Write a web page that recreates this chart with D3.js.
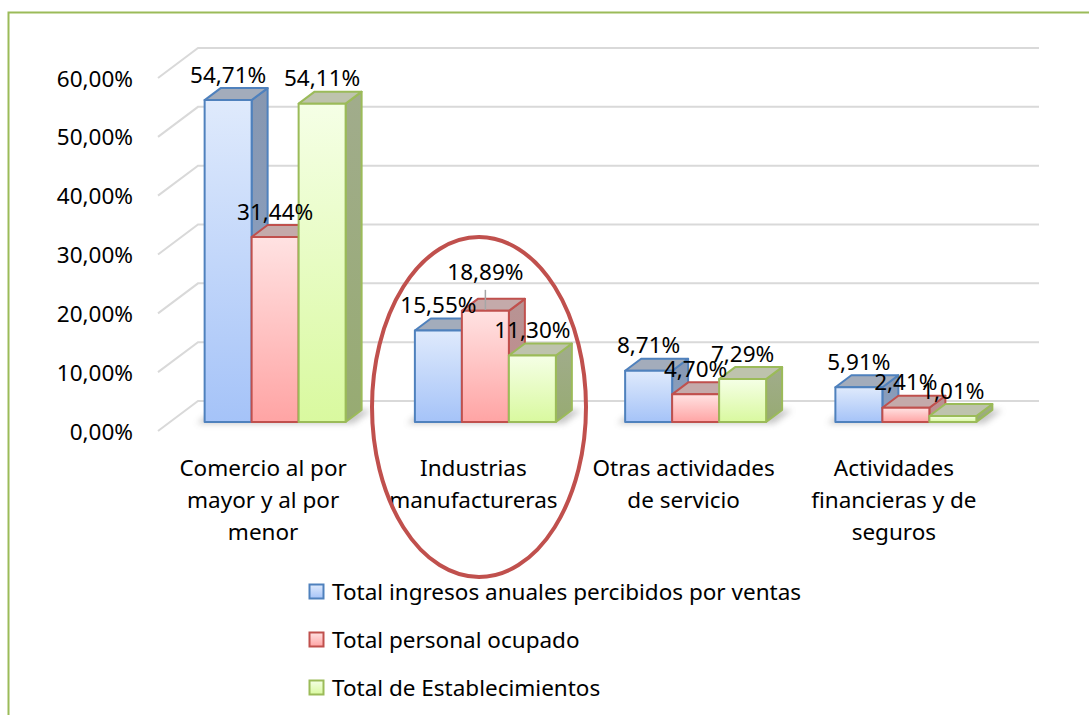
<!DOCTYPE html>
<html>
<head>
<meta charset="utf-8">
<script src="https://cdn.jsdelivr.net/npm/d3@7"></script>
<style>
  body { margin: 0; background: #fff; }
  svg { display: block; font-family: "Noto Sans", "Open Sans", sans-serif; }
</style>
</head>
<body>
<div id="container"></div>
<script>
/** DATA */
const categories = ["Comercio al por mayor y al por menor", "Industrias manufactureras", "Otras actividades de servicio", "Actividades financieras y de seguros"];
const categoryLines = [
  ["Comercio al por", "mayor y al por", "menor"],
  ["Industrias", "manufactureras"],
  ["Otras actividades", "de servicio"],
  ["Actividades", "financieras y de", "seguros"]
];
const seriesNames = ["Total ingresos anuales percibidos por ventas", "Total personal ocupado", "Total de Establecimientos"];
const ventas = [54.71, 15.55, 8.71, 5.91];
const personal = [31.44, 18.89, 4.70, 2.41];
const establecimientos = [54.11, 11.30, 7.29, 1.01];
const yTicks = [0, 10, 20, 30, 40, 50, 60];

/** CONSTANTS */
const width = 1089, height = 715;
const DX = 40, DY = 30;          // floor depth offset (front -> back wall)
const T0 = 0.3, T1 = 0.7;        // bar depth slab
const FS = 22.5;                 // font size

const palette = [
  { stroke: "#4f81bd", top: "#dfeafc", bottom: "#a5c3f8", side: "#8797b0", sideB: "#8ba3c8", lid: "#a3acbb" },
  { stroke: "#c0504d", top: "#ffe2e2", bottom: "#ffa4a4", side: "#b79494", sideB: "#c48a8a", lid: "#c4aaaa" },
  { stroke: "#9bbb59", top: "#f5ffe6", bottom: "#d9f99f", side: "#a1ac8c", sideB: "#97ab72", lid: "#bec3ad" }
];

const values = [ventas, personal, establecimientos];

const locale = d3.formatLocale({ decimal: ",", thousands: ".", grouping: [3], currency: ["", ""] });
const fmtPct = d => locale.format(".2f")(d) + "%";

const svg = d3.select("#container").append("svg")
  .attr("width", width)
  .attr("height", height);

const defs = svg.append("defs");
palette.forEach((p, i) => {
  const g = defs.append("linearGradient").attr("id", "front" + i)
    .attr("x1", 0).attr("y1", 0).attr("x2", 0).attr("y2", 1);
  g.append("stop").attr("offset", 0).attr("stop-color", p.top);
  g.append("stop").attr("offset", 1).attr("stop-color", p.bottom);
  const s = defs.append("linearGradient").attr("id", "side" + i)
    .attr("x1", 0).attr("y1", 0).attr("x2", 0).attr("y2", 1);
  s.append("stop").attr("offset", 0).attr("stop-color", p.side);
  s.append("stop").attr("offset", 1).attr("stop-color", p.sideB);
});
defs.append("filter").attr("id", "blur")
  .attr("x", "-20%").attr("y", "-50%").attr("width", "140%").attr("height", "200%")
  .append("feGaussianBlur").attr("stdDeviation", 3);

// outer border (green, runs off the right/bottom edges)
svg.append("rect")
  .attr("x", 8.5).attr("y", 12.5)
  .attr("width", 1200).attr("height", 800)
  .attr("fill", "none")
  .attr("stroke", "#9bbb59")
  .attr("stroke-width", 2);

/** SCALES */
const y = d3.scaleLinear().domain([0, 60]).range([431, 78]);
const x0 = d3.scaleBand().domain(categories).range([158, 999]).paddingInner(0).paddingOuter(0);
const x1 = d3.scaleBand().domain(seriesNames).range([0, x0.bandwidth()]).paddingInner(0).paddingOuter(0.737);

const proj = (xf, v, t) => [xf + DX * t, y(v) - DY * t];

/** WALLS / GRIDLINES */
const grid = svg.append("g").attr("stroke", "#d9d9d9").attr("stroke-width", 2).attr("fill", "none");
yTicks.forEach(t => {
  const a = proj(158, t, 0), b = proj(158, t, 1), c = proj(999, t, 1);
  grid.append("path").attr("d", `M${a}L${b}L${c}`);
});

// y axis labels
svg.append("g").selectAll("text")
  .data(yTicks)
  .join("text")
  .attr("x", 133)
  .attr("y", d => y(d))
  .attr("text-anchor", "end")
  .attr("dominant-baseline", "central")
  .attr("font-size", FS)
  .attr("fill", "#000")
  .text(fmtPct);

// category labels
categories.forEach((c, i) => {
  const cx = x0(c) + x0.bandwidth() / 2;
  const t = svg.append("text")
    .attr("text-anchor", "middle")
    .attr("font-size", FS)
    .attr("fill", "#000");
  categoryLines[i].forEach((line, j) => {
    t.append("tspan").attr("x", cx).attr("y", 467 + j * 32)
      .attr("dominant-baseline", "central").text(line);
  });
});

/** BARS */
const poly = pts => "M" + pts.map(p => p.join(",")).join("L") + "Z";

// soft shadows on the floor
categories.forEach(c => {
  const xa = x0(c) + x1(seriesNames[0]);
  const xb = x0(c) + x1(seriesNames[2]) + x1.bandwidth();
  svg.append("path")
    .attr("d", poly([proj(xa - 6, 0, T0 - 0.05), proj(xb + 10, 0, T0 - 0.05), proj(xb + 10, 0, T1), proj(xa - 6, 0, T1)]))
    .attr("fill", "#7f7f7f")
    .attr("opacity", 0.45)
    .attr("filter", "url(#blur)");
});

const bars = svg.append("g");
categories.forEach((c, ci) => {
  seriesNames.forEach((s, si) => {
    const v = values[si][ci];
    const p = palette[si];
    const xa = x0(c) + x1(s), xb = xa + x1.bandwidth();
    const g = bars.append("g")
      .attr("stroke", p.stroke)
      .attr("stroke-width", 2)
      .attr("stroke-linejoin", "round");
    g.append("path")
      .attr("d", poly([proj(xb, 0, T0), proj(xb, 0, T1), proj(xb, v, T1), proj(xb, v, T0)]))
      .attr("fill", `url(#side${si})`);
    g.append("path")
      .attr("d", poly([proj(xa, v, T0), proj(xb, v, T0), proj(xb, v, T1), proj(xa, v, T1)]))
      .attr("fill", p.lid);
    g.append("path")
      .attr("d", poly([proj(xa, 0, T0), proj(xb, 0, T0), proj(xb, v, T0), proj(xa, v, T0)]))
      .attr("fill", `url(#front${si})`);
  });
});

// value labels
const labels = svg.append("g");
categories.forEach((c, ci) => {
  seriesNames.forEach((s, si) => {
    const v = values[si][ci];
    const xa = x0(c) + x1(s);
    const top = proj(xa + x1.bandwidth() / 2, v, T0);
    // the 18,89% label was dragged up in the original, with a leader line
    const moved = (ci === 1 && si === 1);
    const ly = top[1] - 26 - (moved ? 13 : 0);
    if (moved) {
      labels.append("line")
        .attr("x1", top[0]).attr("x2", top[0])
        .attr("y1", ly + 18).attr("y2", top[1] - 1)
        .attr("stroke", "#a6a6a6").attr("stroke-width", 1.5);
    }
    labels.append("text")
      .attr("x", top[0])
      .attr("y", ly)
      .attr("text-anchor", "middle")
      .attr("dominant-baseline", "central")
      .attr("font-size", FS)
      .attr("fill", "#000")
      .text(fmtPct(v));
  });
});

/** ANNOTATION ELLIPSE */
svg.append("ellipse")
  .attr("cx", 479).attr("cy", 407)
  .attr("rx", 107).attr("ry", 170)
  .attr("fill", "none")
  .attr("stroke", "#c0504d")
  .attr("stroke-width", 4);

/** LEGEND */
const legend = svg.append("g").attr("transform", "translate(309,584)");
seriesNames.forEach((s, i) => {
  const row = legend.append("g").attr("transform", `translate(0,${i * 48})`);
  row.append("rect")
    .attr("x", 0.5).attr("y", 0.5)
    .attr("width", 14).attr("height", 14)
    .attr("fill", `url(#front${i})`)
    .attr("stroke", palette[i].stroke)
    .attr("stroke-width", 2);
  row.append("text")
    .attr("x", 23).attr("y", 7.5)
    .attr("dominant-baseline", "central")
    .attr("font-size", FS)
    .attr("fill", "#000")
    .text(s);
});
</script>
</body>
</html>
